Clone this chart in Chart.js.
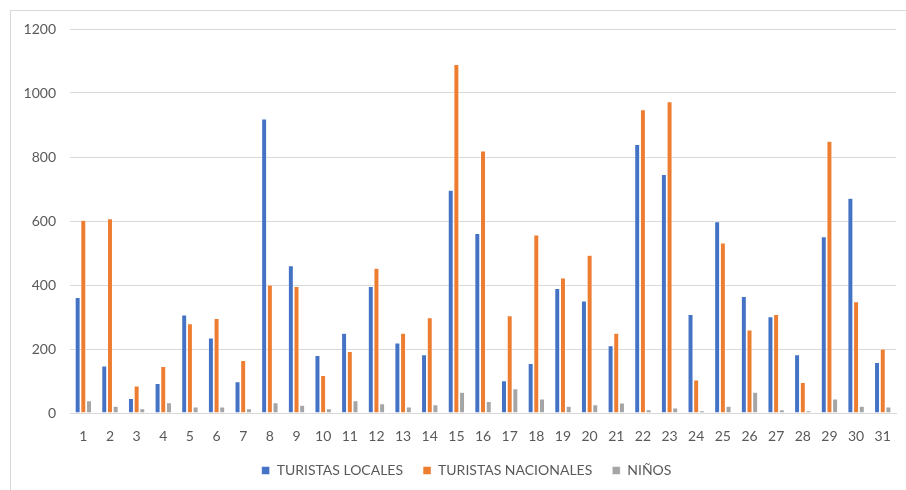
<!DOCTYPE html>
<html>
<head>
<meta charset="utf-8">
<script src="https://cdn.jsdelivr.net/npm/chart.js@4/dist/chart.umd.min.js"></script>
<style>
  html, body { margin: 0; padding: 0; background: #fff; }
  #wrap { width: 906px; height: 490px; position: relative; }
</style>
</head>
<body>
<div id="wrap"><canvas id="chart"></canvas></div>
<script>
const dias = ['1','2','3','4','5','6','7','8','9','10','11','12','13','14','15','16',
  '17','18','19','20','21','22','23','24','25','26','27','28','29','30','31'];

const turistasLocales = [361, 147, 45, 92, 306, 234, 98, 919, 460, 180, 249, 395, 219, 182, 696, 561,
  101, 155, 389, 350, 210, 839, 745, 308, 598, 364, 301, 182, 551, 671, 158];

const turistasNacionales = [602, 607, 84, 145, 279, 295, 164, 400, 395, 117, 192, 452, 249, 298, 1089, 819,
  304, 556, 422, 493, 249, 948, 973, 103, 531, 259, 308, 95, 849, 348, 200];

const ninos = [38, 21, 13, 32, 19, 19, 13, 32, 24, 13, 38, 29, 19, 26, 65, 36,
  76, 44, 21, 26, 31, 10, 16, 7, 21, 65, 10, 7, 44, 21, 19];

const yTicks = [0, 200, 400, 600, 800, 1000, 1200];

const COLORS = {
  blue: '#4472C4',
  orange: '#ED7D31',
  grey: '#A5A5A5'
};

const FONT = 'Lato, "Liberation Sans", sans-serif';
const TEXT = '#595959';

// light frame around the chart, like the excel chart box,
// and a small nudge of the legend so it sits where excel put it
const frame = {
  id: 'frame',
  afterLayout(chart) {
    const lg = chart.legend;
    if (!lg) return;
    lg.top -= 2.5;
    lg.bottom -= 2.5;
    lg.left += 13;
    lg.right += 13;
  },
  beforeDraw(chart) {
    const ctx = chart.ctx;
    ctx.save();
    ctx.fillStyle = '#fff';
    ctx.fillRect(0, 0, chart.width, chart.height);
    ctx.strokeStyle = '#d9d9d9';
    ctx.lineWidth = 1;
    ctx.strokeRect(10.5, 10.5, chart.width, chart.height);
    ctx.restore();
  }
};

function bars(label, data, color) {
  return {
    label,
    data,
    backgroundColor: color,
    borderColor: '#ffffff',
    borderWidth: 0.5,
    categoryPercentage: 0.64,
    barPercentage: 0.88
  };
}

new Chart(document.getElementById('chart'), {
  type: 'bar',
  data: {
    labels: dias,
    datasets: [
      bars('TURISTAS LOCALES', turistasLocales, COLORS.blue),
      bars('TURISTAS NACIONALES', turistasNacionales, COLORS.orange),
      bars('NIÑOS', ninos, COLORS.grey)
    ]
  },
  options: {
    animation: false,
    responsive: true,
    maintainAspectRatio: false,
    layout: {
      padding: { left: 10, right: 9, top: 29, bottom: 0 }
    },
    plugins: {
      legend: {
        position: 'bottom',
        labels: {
          boxWidth: 8,
          boxHeight: 8,
          padding: 20,
          color: TEXT,
          font: { family: FONT, size: 14 }
        }
      },
      tooltip: { enabled: false }
    },
    scales: {
      x: {
        afterFit(scale) { scale.height = 33; },
        grid: { display: false, drawTicks: false },
        border: { color: '#d9d9d9', width: 1 },
        ticks: {
          color: TEXT,
          padding: 15,
          maxRotation: 0,
          autoSkip: false,
          font: { family: FONT, size: 14 }
        }
      },
      y: {
        min: 0,
        max: 1200,
        afterFit(scale) { scale.width = 60; },
        afterBuildTicks(scale) { scale.ticks = yTicks.map(v => ({ value: v })); },
        grid: { color: '#d9d9d9', drawTicks: false },
        border: { display: false },
        ticks: {
          color: TEXT,
          padding: 14,
          callback: v => String(v),
          font: { family: FONT, size: 14 }
        }
      }
    }
  },
  plugins: [frame]
});
</script>
</body>
</html>
